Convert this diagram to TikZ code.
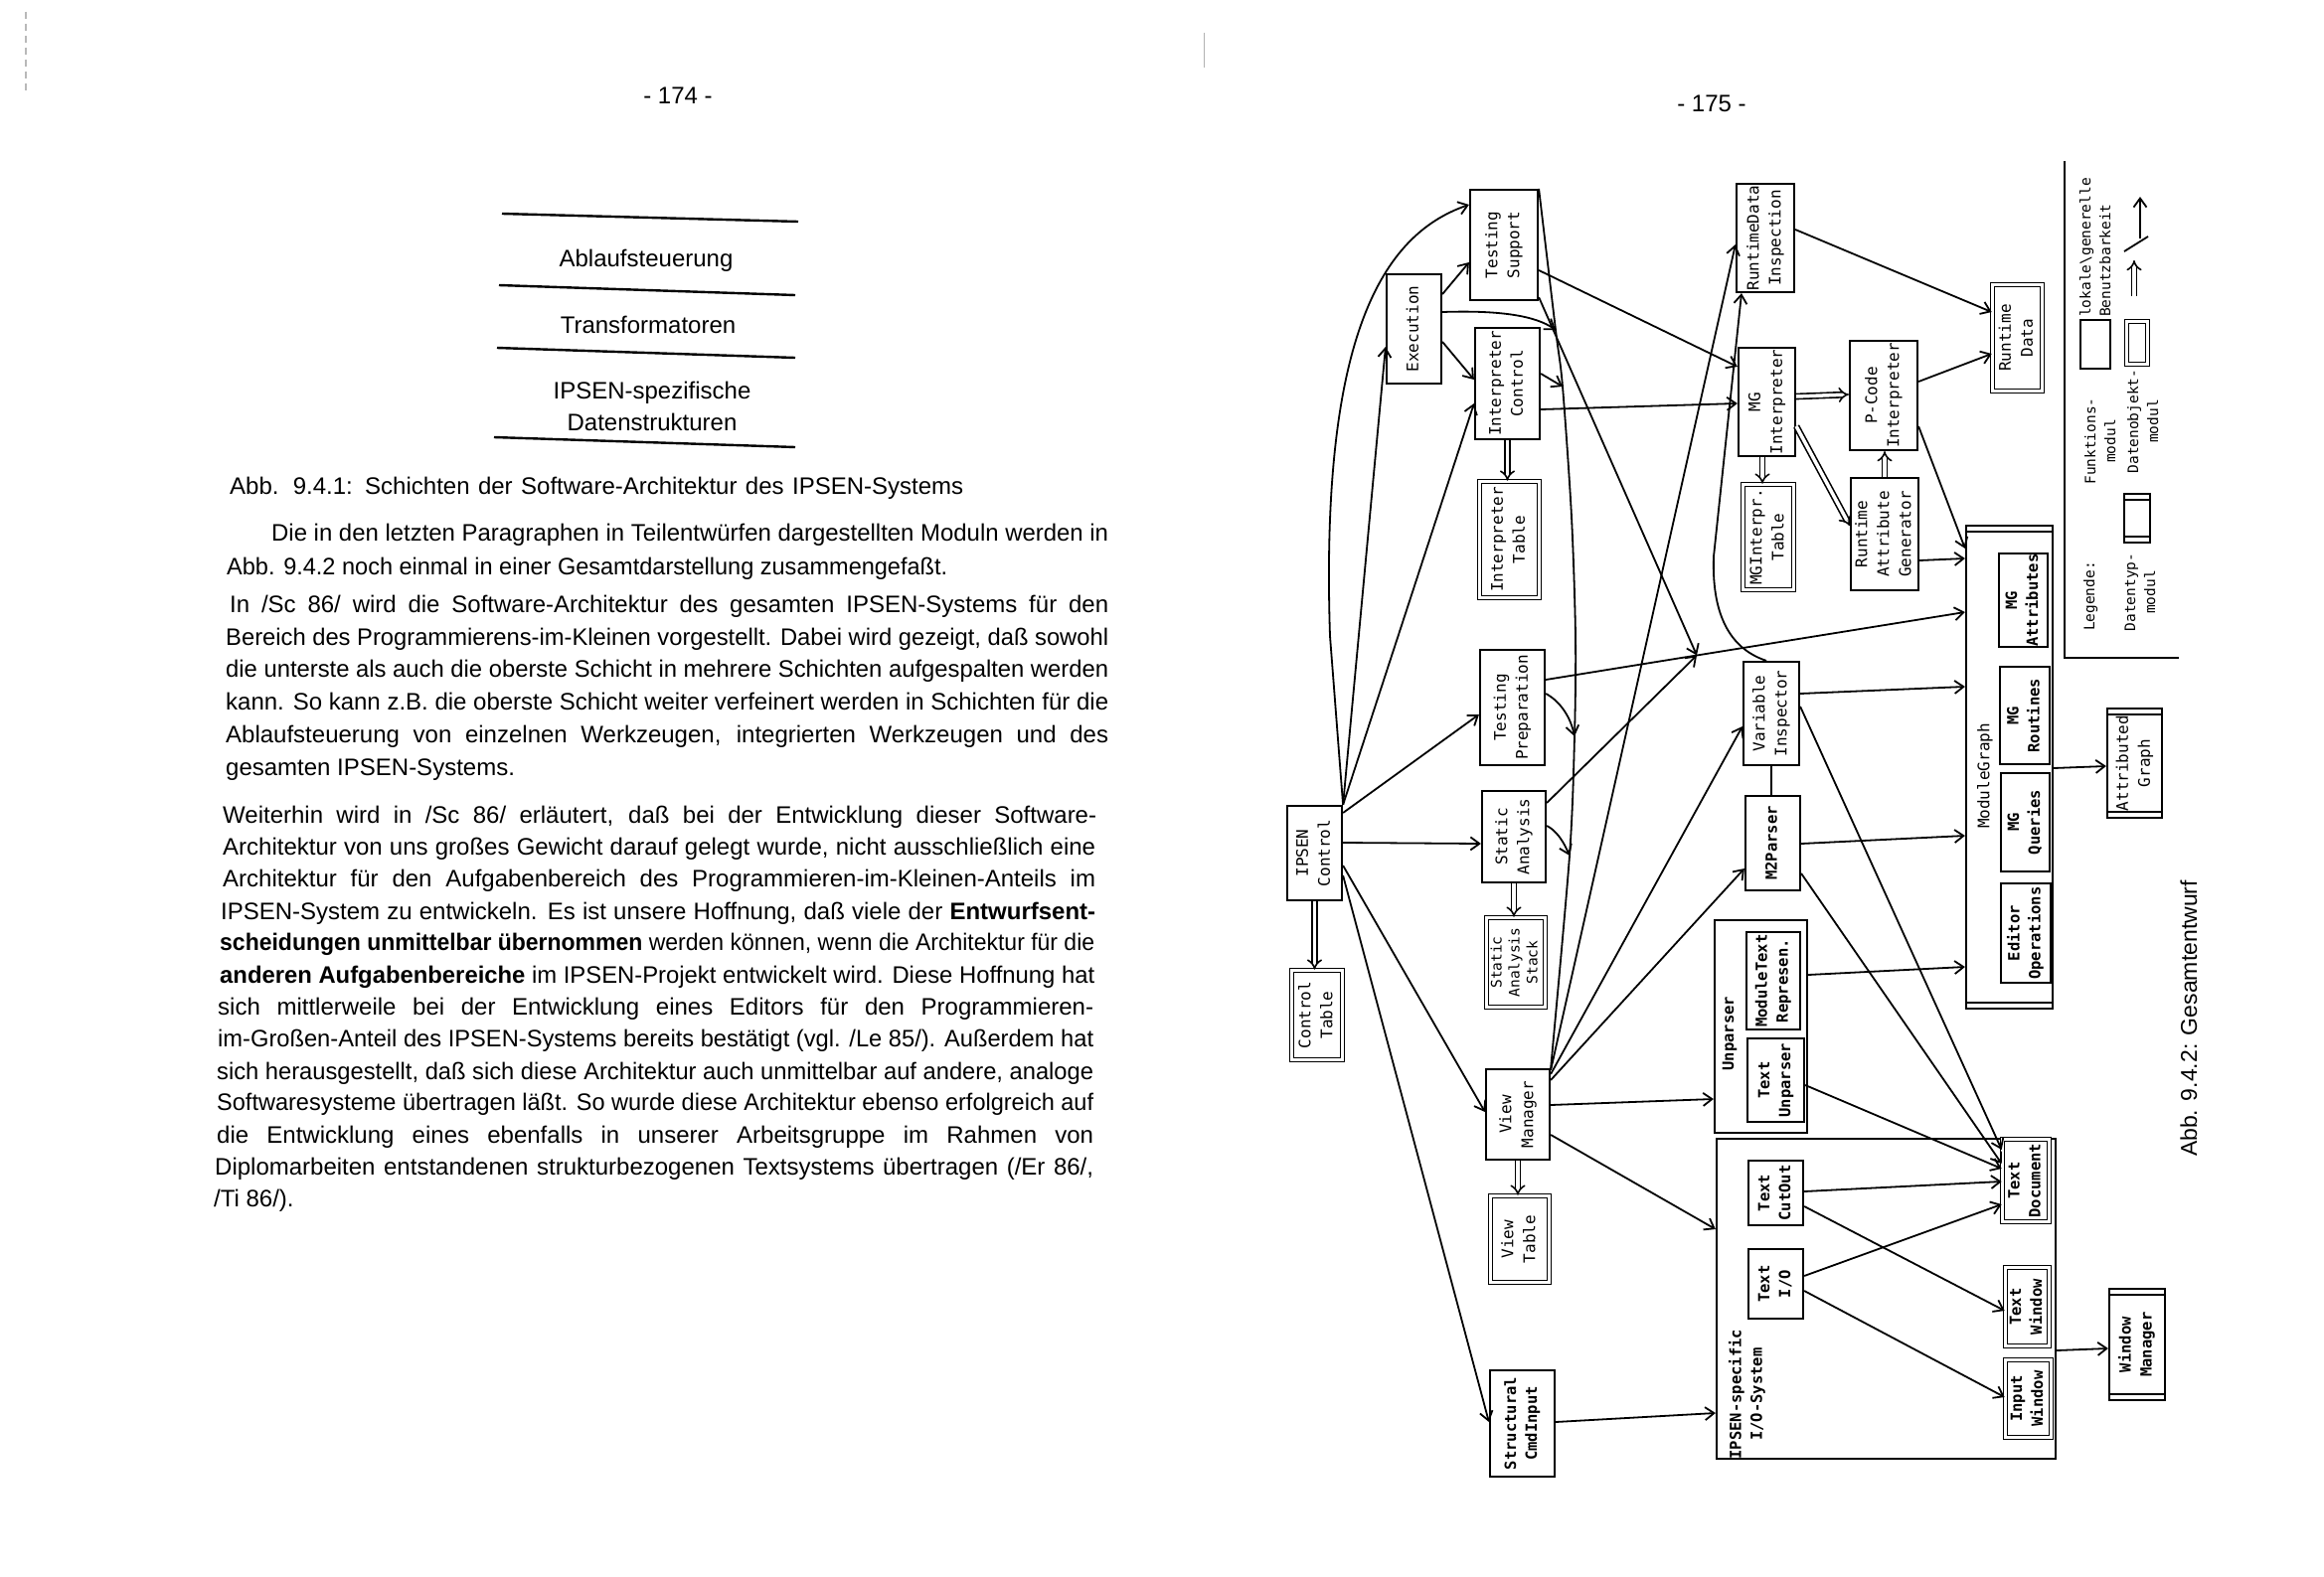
\documentclass[tikz,border=0pt]{standalone}
\usepackage{fontspec}
\usepackage{graphicx}
\usetikzlibrary{arrows.meta}
\setmainfont{Liberation Sans}
\newfontfamily\dmono{DejaVu Sans Mono}
\newsavebox\jlbox
\newcommand\jline[2]{\sbox\jlbox{#2}\ifdim\wd\jlbox>#1\relax\resizebox{#1}{\ht\jlbox}{\usebox\jlbox}\else\makebox[#1][s]{#2}\fi}
\newcommand\rtx[1]{\rotatebox{90}{\begin{tabular}{@{}c@{}}#1\end{tabular}}}
\newcommand\rtl[1]{\rotatebox{90}{\begin{tabular}{@{}l@{}}#1\end{tabular}}}
\tikzset{
  box/.style={draw, line width=2.2pt, rectangle, inner sep=0pt, font=\dmono\fontsize{16}{22}\selectfont},
  fm/.style={box},
  dobj/.style={box, double, double distance=2.5pt, line width=1.6pt},
  dtyp/.style={box, path picture={
     \draw[line width=1.6pt] ([yshift=-6pt]path picture bounding box.north west) -- ([yshift=-6pt]path picture bounding box.north east);
     \draw[line width=1.6pt] ([yshift=6pt]path picture bounding box.south west) -- ([yshift=6pt]path picture bounding box.south east);}},
  grp/.style={draw, line width=2.2pt, rectangle, inner sep=0pt},
  lab/.style={inner sep=0pt, font=\dmono\fontsize{16}{22}\selectfont},
  leg/.style={inner sep=0pt, font=\dmono\fontsize{14.5}{20}\selectfont},
  bd/.style={font=\dmono\bfseries\fontsize{15.5}{21}\selectfont},
  con/.style={line width=1.8pt, -{Straight Barb[length=9pt,width=13pt]}},
  dcon/.style={double, double distance=3.5pt, line width=1.6pt, -{Implies}},
  busline/.style={line width=1.8pt},
  tl/.style={anchor=base west, inner sep=0pt, font=\fontsize{24}{28}\selectfont},
  lay/.style={line width=2.4pt},
  ly/.style={inner sep=0pt, font=\fontsize{24}{32}\selectfont, align=center}
}
\begin{document}
\begin{tikzpicture}[x=1pt,y=-1pt]
\useasboundingbox (0,0) rectangle (2338,1587);
\fill[white] (0,0) rectangle (2338,1587);
% scan marks
\draw[gray!55, line width=1.2pt, dash pattern=on 7pt off 5pt] (26,12) -- (26,95);
\draw[gray!60, line width=1pt] (1211,33) -- (1211,68);

% ---------------- left page ----------------
\node[ly] (pg174) at (682,96) {- 174 -};
\draw[lay] (505,215) -- (803,223);
\draw[lay] (502,287) -- (800,297);
\draw[lay] (500,350) -- (800,360);
\draw[lay] (497,440) -- (800,450);
\node[ly] (l1) at (650,262) {Ablaufsteuerung};
\node[ly] (l2) at (652,327) {Transformatoren};
\node[ly] (l3) at (656,409) {IPSEN-spezifische\\Datenstrukturen};

\node[tl] (t0) at (231,497) {\jline{738pt}{Abb. 9.4.1: Schichten der Software-Architektur des IPSEN-Systems}};
\node[tl] (t1) at (273,544) {\jline{842pt}{Die in den letzten Paragraphen in Teilentwürfen dargestellten Moduln werden in}};
\node[tl] (t2) at (228,578) {\jline{725pt}{Abb. 9.4.2 noch einmal in einer Gesamtdarstellung zusammengefaßt.}};
\node[tl] (t3) at (231,616) {\jline{884pt}{In /Sc 86/ wird die Software-Architektur des gesamten IPSEN-Systems für den}};
\node[tl] (t4) at (227,649) {\jline{888pt}{Bereich des Programmierens-im-Kleinen vorgestellt. Dabei wird gezeigt, daß sowohl}};
\node[tl] (t5) at (227,681) {\jline{888pt}{die unterste als auch die oberste Schicht in mehrere Schichten aufgespalten werden}};
\node[tl] (t6) at (227,714) {\jline{888pt}{kann. So kann z.B. die oberste Schicht weiter verfeinert werden in Schichten für die}};
\node[tl] (t7) at (227,747) {\jline{888pt}{Ablaufsteuerung von einzelnen Werkzeugen, integrierten Werkzeugen und des}};
\node[tl] (t8) at (227,780) {gesamten IPSEN-Systems.};
\node[tl] (t9) at (224,828) {\jline{879pt}{Weiterhin wird in /Sc 86/ erläutert, daß bei der Entwicklung dieser Software-}};
\node[tl] (t10) at (224,860) {\jline{878pt}{Architektur von uns großes Gewicht darauf gelegt wurde, nicht ausschließlich eine}};
\node[tl] (t11) at (224,892) {\jline{878pt}{Architektur für den Aufgabenbereich des Programmieren-im-Kleinen-Anteils im}};
\node[tl] (t12) at (222,925) {\jline{880pt}{IPSEN-System zu entwickeln. Es ist unsere Hoffnung, daß viele der \textbf{Entwurfsent-}}};
\node[tl] (t13) at (221,956) {\jline{880pt}{\textbf{scheidungen unmittelbar übernommen} werden können, wenn die Architektur für die}};
\node[tl] (t14) at (221,989) {\jline{880pt}{\textbf{anderen Aufgabenbereiche} im IPSEN-Projekt entwickelt wird. Diese Hoffnung hat}};
\node[tl] (t15) at (219,1021) {\jline{881pt}{sich mittlerweile bei der Entwicklung eines Editors für den Programmieren-}};
\node[tl] (t16) at (219,1053) {\jline{881pt}{im-Großen-Anteil des IPSEN-Systems bereits bestätigt (vgl. /Le 85/). Außerdem hat}};
\node[tl] (t17) at (218,1086) {\jline{882pt}{sich herausgestellt, daß sich diese Architektur auch unmittelbar auf andere, analoge}};
\node[tl] (t18) at (218,1117) {\jline{882pt}{Softwaresysteme übertragen läßt. So wurde diese Architektur ebenso erfolgreich auf}};
\node[tl] (t19) at (218,1150) {\jline{882pt}{die Entwicklung eines ebenfalls in unserer Arbeitsgruppe im Rahmen von}};
\node[tl] (t20) at (216,1182) {\jline{884pt}{Diplomarbeiten entstandenen strukturbezogenen Textsystems übertragen (/Er 86/,}};
\node[tl] (t21) at (215,1214) {/Ti 86/).};

% ---------------- right page ----------------
\node[ly] (pg175) at (1722,104) {- 175 -};

% modules
\node[fm, minimum width=68pt, minimum height=111pt] (ts) at (1513,246.5) {\rtx{Testing\\Support}};
\node[fm, minimum width=55pt, minimum height=110pt] (ex) at (1422.5,331) {\rtx{Execution}};
\node[fm, minimum width=65pt, minimum height=112pt] (ic) at (1516.5,386) {\rtx{Interpreter\\Control}};
\node[dobj, minimum width=60pt, minimum height=117pt] (it) at (1518.5,543) {\rtx{Interpreter\\Table}};
\node[fm, minimum width=58pt, minimum height=109pt] (rdi) at (1776,239.5) {\rtx{RuntimeData\\Inspection}};
\node[fm, minimum width=57pt, minimum height=109pt] (mgi) at (1777.5,404.5) {\rtx{MG\\Interpreter}};
\node[dobj, minimum width=51pt, minimum height=106pt] (mgt) at (1779,540.5) {\rtx{MGInterpr.\\Table}};
\node[fm, minimum width=68pt, minimum height=110pt] (pci) at (1895,398) {\rtx{P-Code\\Interpreter}};
\node[fm, minimum width=68pt, minimum height=113pt] (rag) at (1896,537.5) {\rtx{Runtime\\Attribute\\Generator}};
\node[dobj, minimum width=50pt, minimum height=107pt] (rd) at (2029.5,340) {\rtx{Runtime\\Data}};
\node[dtyp, minimum width=87pt, minimum height=486pt] (mg) at (2021.5,772) {};
\node[lab] (mglab) at (1997,781) {\rtx{ModuleGraph}};
\node[fm, bd, minimum width=49pt, minimum height=94pt] (mga) at (2035.5,604) {\rtx{MG\\Attributes}};
\node[fm, bd, minimum width=50pt, minimum height=98pt] (mgr) at (2037,720) {\rtx{MG\\Routines}};
\node[fm, bd, minimum width=49pt, minimum height=99pt] (mgq) at (2037.5,827.5) {\rtx{MG\\Queries}};
\node[fm, bd, minimum width=50pt, minimum height=100pt] (eo) at (2038,939) {\rtx{Editor\\Operations}};
\node[dtyp, minimum width=55pt, minimum height=110pt] (ag) at (2147.5,768) {\rtx{Attributed\\Graph}};
\node[fm, minimum width=55pt, minimum height=95pt] (ipc) at (1322.5,858.5) {\rtx{IPSEN\\Control}};
\node[dobj, minimum width=51pt, minimum height=90pt] (ct) at (1325,1021.5) {\rtx{Control\\Table}};
\node[fm, minimum width=65pt, minimum height=116pt] (tp) at (1521.5,712) {\rtx{Testing\\Preparation}};
\node[fm, minimum width=64pt, minimum height=92pt] (sa) at (1523,842) {\rtx{Static\\Analysis}};
\node[dobj, minimum width=59pt, minimum height=90pt, font=\dmono\fontsize{14.5}{18}\selectfont] (sas) at (1525,968.5) {\rtx{Static\\Analysis\\Stack}};
\node[fm, minimum width=64pt, minimum height=91pt] (vm) at (1527,1121.5) {\rtx{View\\Manager}};
\node[dobj, minimum width=59pt, minimum height=87pt] (vt) at (1529,1247) {\rtx{View\\Table}};
\node[fm, bd, minimum width=65pt, minimum height=107pt] (sci) at (1531.5,1432.5) {\rtx{Structural\\CmdInput}};
\node[fm, minimum width=56pt, minimum height=104pt] (vi) at (1782,718) {\rtx{Variable\\Inspector}};
\node[fm, bd, minimum width=55pt, minimum height=95pt] (m2p) at (1783.5,848.5) {\rtx{M2Parser}};
\node[grp, minimum width=93pt, minimum height=214pt] (up) at (1771.5,1033) {};
\node[lab, bd] (uplab) at (1740,1040) {\rtx{Unparser}};
\node[fm, bd, minimum width=54pt, minimum height=98pt] (mtr) at (1784,987) {\rtx{ModuleText\\Represen.}};
\node[fm, bd, minimum width=57pt, minimum height=84pt] (tu) at (1786.5,1087) {\rtx{Text\\Unparser}};
\node[grp, minimum width=341pt, minimum height=322pt] (io) at (1897.5,1307) {};
\node[lab, bd] (iolab) at (1758,1403) {\rtx{IPSEN-specific\\I/O-System}};
\node[fm, bd, minimum width=55pt, minimum height=65pt] (tco) at (1786.5,1200.5) {\rtx{Text\\CutOut}};
\node[fm, bd, minimum width=55pt, minimum height=70pt] (tio) at (1786.5,1292) {\rtx{Text\\I/O}};
\node[dobj, bd, minimum width=47pt, minimum height=83pt] (td) at (2038,1188) {\rtx{Text\\Document}};
\node[dobj, bd, minimum width=44pt, minimum height=79pt] (tw) at (2039.5,1315) {\rtx{Text\\Window}};
\node[dobj, bd, minimum width=46pt, minimum height=78pt] (iw) at (2040.5,1407.5) {\rtx{Input\\Window}};
\node[dtyp, bd, minimum width=56pt, minimum height=112pt] (wm) at (2150,1353) {\rtx{Window\\Manager}};

% helper coordinates
\coordinate (bendA) at (1338,640);
\coordinate (bus1) at (1565,332);
\coordinate (bus2) at (1572,389);
\coordinate (busm1) at (1581,520);
\coordinate (busm2) at (1585,641);
\coordinate (bus3) at (1584,741);
\coordinate (bus4) at (1579,861);
\coordinate (J) at (1707,659.5);
\coordinate (vibend) at (1724,560);

% bus line to View Manager
\draw[busline] plot[smooth, tension=0.5] coordinates {(ts.north east) (bus1) (bus2) (busm1) (busm2) (bus3) (bus4) (vm.north east)};

% IPSEN Control
\draw[con] (ipc.north east) -- ([shift={(0,18)}]ex.west);
\draw[con] (ipc.north east) -- (bendA) .. controls (1328,340) and (1390,236) .. ([shift={(0,-40.5)}]ts.west);
\draw[con] (ipc.north east) -- ([shift={(0,20)}]ic.west);
\draw[con] ([shift={(0,-40.5)}]ipc.east) -- ([shift={(0,7)}]tp.west);
\draw[con] ([shift={(0,-10.5)}]ipc.east) -- ([shift={(0,7)}]sa.west);
\draw[con] ([shift={(0,12.5)}]ipc.east) -- ([shift={(0,-2.5)}]vm.west);
\draw[con] ([shift={(0,22.5)}]ipc.east) -- ([shift={(0,-1.5)}]sci.west);
\draw[dcon] (ipc.south) -- (ipc.south |- ct.north);

% Execution
\draw[con] ([shift={(0,-35)}]ex.east) -- ([shift={(0,17.5)}]ts.west);
\draw[con] ([shift={(0,13)}]ex.east) -- ([shift={(0,-4)}]ic.west);
\draw[con] ([shift={(0,-17)}]ex.east) .. controls (1510,312) and (1545,318) .. (bus1);

% Interpreter Control
\draw[con] ([shift={(0,-10)}]ic.east) -- (bus2);
\draw[con] ([shift={(0,26)}]ic.east) -- ([shift={(0,1.5)}]mgi.west);
\draw[dcon] (ic.south) -- (ic.south |- it.north);

% Testing Support
\draw[con] ([shift={(0,25.5)}]ts.east) -- ([shift={(0,-35.5)}]mgi.west);
\draw[con] ([shift={(0,-4)}]ts.south east) -- (J);

% Testing Preparation
\draw[con] ([shift={(0,-14)}]tp.east) .. controls (1570,706) and (1580,722) .. (bus3);
\draw[con] ([shift={(0,-28)}]tp.east) -- (J) -- ([shift={(0,-156)}]mg.west);

% Static Analysis
\draw[con] ([shift={(0,-11)}]sa.east) .. controls (1566,836) and (1573,847) .. (bus4);
\draw[con] ([shift={(0,-34)}]sa.east) -- (J);
\draw[dcon] (sa.south) -- (sa.south |- sas.north);

% View Manager
\draw[con] ([shift={(0,2)}]vm.north east) -- ([shift={(0,6.5)}]rdi.west);
\draw[con] ([shift={(0,6)}]vm.north east) -- ([shift={(0,13)}]vi.west);
\draw[con] ([shift={(0,12)}]vm.north east) -- ([shift={(0,25.5)}]m2p.west);
\draw[con] ([shift={(0,-9.5)}]vm.east) -- ([shift={(0,73)}]up.west);
\draw[con] ([shift={(0,20.5)}]vm.east) -- ([shift={(0,-70)}]io.west);
\draw[dcon] (vm.south) -- (vm.south |- vt.north);

% Structural CmdInput
\draw[con] ([shift={(0,-1.5)}]sci.east) -- ([shift={(0,115)}]io.west);

% Variable Inspector
\draw[con] ([shift={(-5,0)}]vi.north) .. controls (1738,652) and (1722,615) .. (vibend) -- ([shift={(-24,0)}]rdi.south);
\draw[con] ([shift={(0,-20)}]vi.east) -- ([shift={(0,-81)}]mg.west);
\draw[con] ([shift={(0,-7)}]vi.east) -- ([shift={(0,-31)}]td.west);
\draw[line width=1.8pt] (vi.south) -- (vi.south |- m2p.north);

% M2Parser
\draw[con] ([shift={(0,0.5)}]m2p.east) -- ([shift={(0,69)}]mg.west);
\draw[con] ([shift={(0,30.5)}]m2p.east) -- ([shift={(0,-17)}]td.west);

% Unparser
\draw[con] ([shift={(0,-52)}]up.east) -- ([shift={(0,201)}]mg.west);
\draw[con] ([shift={(0,5)}]tu.east) -- ([shift={(0,-12)}]td.west);

% I/O system
\draw[con] ([shift={(0,-1.5)}]tco.east) -- ([shift={(0,1)}]td.west);
\draw[con] ([shift={(0,-8)}]tio.east) -- ([shift={(0,24)}]td.west);
\draw[con] ([shift={(0,13.5)}]tco.east) -- ([shift={(0,4)}]tw.west);
\draw[con] ([shift={(0,7)}]tio.east) -- ([shift={(0,-1.5)}]iw.west);
\draw[con] ([shift={(0,52)}]io.east) -- ([shift={(0,4)}]wm.west);

% interpreter area
\draw[con] ([shift={(0,-8.5)}]rdi.east) -- ([shift={(0,-26)}]rd.west);
\draw[con] ([shift={(0,-14)}]pci.east) -- ([shift={(0,16)}]rd.west);
\draw[con] ([shift={(0,31)}]pci.east) -- ([shift={(0,-220)}]mg.west);
\draw[con] ([shift={(0,26.5)}]rag.east) -- ([shift={(0,-210)}]mg.west);
\draw[con] ([shift={(0,1)}]mg.east) -- ([shift={(0,3)}]ag.west);
\draw[dcon] ([shift={(0,-5.5)}]mgi.east) -- ([shift={(0,-1)}]pci.west);
\draw[dcon] ([shift={(0,24.5)}]mgi.east) -- ([shift={(0,-8.5)}]rag.west);
\draw[dcon] (rag.north) -- (rag.north |- pci.south);
\draw[dcon] ([shift={(-4.5,0)}]mgi.south) -- ([shift={(-6,0)}]mgt.north);

% legend
\draw[line width=2.2pt] (2077,162) -- (2077,662) -- (2192,662);
\node[leg] (lg) at (2103,600) {\rtx{Legende:}};
\node[fm, minimum width=30pt, minimum height=49pt] (lfm) at (2108,346.5) {};
\node[leg] (lfmt) at (2114,444) {\rtx{Funktions-\\modul}};
\node[leg, anchor=south] (lben) at (2109,319) {\rtl{lokale\textbackslash generelle\\Benutzbarkeit}};
\node[dtyp, minimum width=26pt, minimum height=49pt] (ldt) at (2150,521.5) {};
\node[leg] (ldtt) at (2154,596) {\rtx{Datentyp-\\modul}};
\node[dobj, minimum width=21pt, minimum height=43pt] (ldo) at (2150,345) {};
\node[leg] (ldot) at (2157,424) {\rtx{Datenobjekt-\\modul}};
\draw[dcon] (2147,298) -- (2147,262);
\draw[line width=1.8pt] (2137,253) -- (2161,238);
\draw[con] (2153,240) -- (2153,198);

% caption
\node[inner sep=0pt, font=\fontsize{23}{26}\selectfont] (cap2) at (2202,1025) {\rotatebox{90}{Abb. 9.4.2: Gesamtentwurf}};
\end{tikzpicture}
\end{document}
